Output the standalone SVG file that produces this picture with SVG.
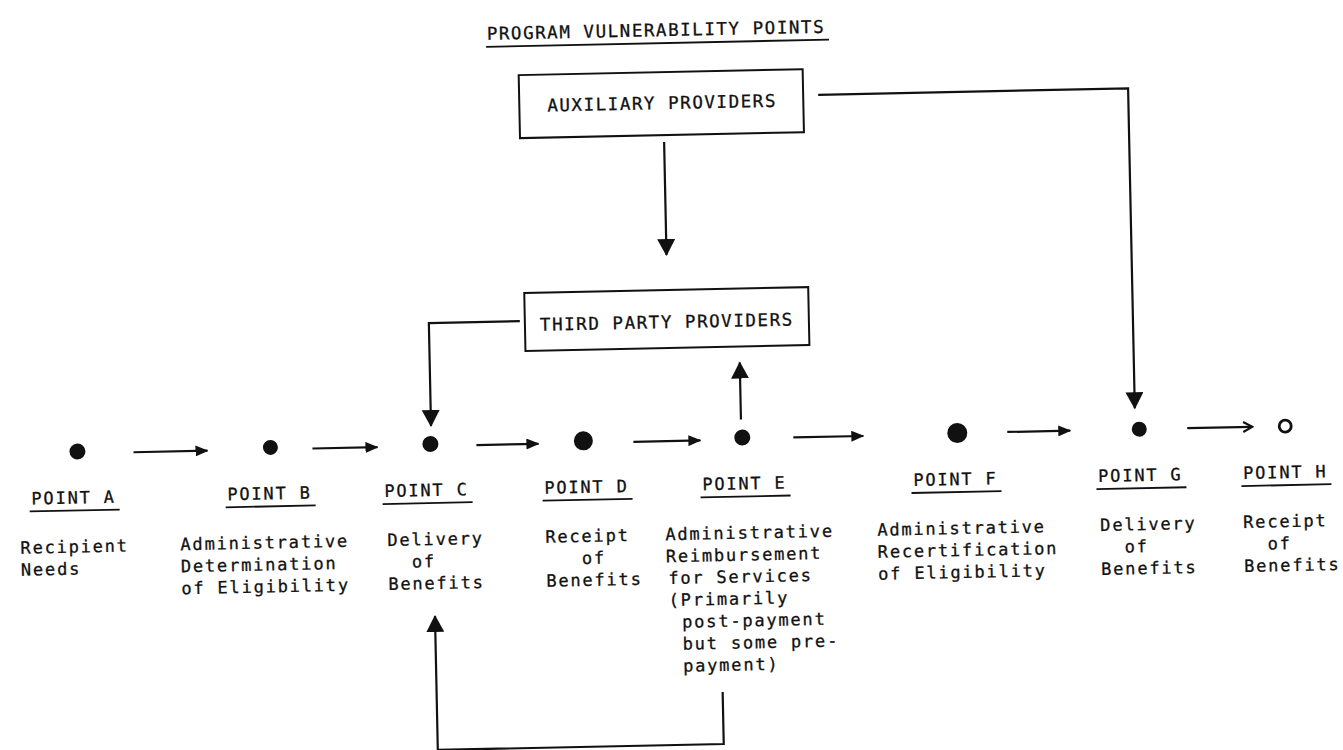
<svg xmlns="http://www.w3.org/2000/svg" width="1343" height="750" viewBox="0 0 1343 750">
<style>
  text { font-family: "DejaVu Sans Mono", "Liberation Mono", monospace; font-size: 17px; letter-spacing: 1.8px; fill: #111; stroke: #111; stroke-width: 0.3px; }
  .big { font-size: 17.5px; letter-spacing: 1.55px; }
  .box { fill: none; stroke: #111; stroke-width: 2; }
  .ul { stroke: #111; stroke-width: 1.8; }
  .conn path { fill: none; stroke: #111; stroke-width: 2.2; }
  .dot { fill: #111; }
</style>
<defs>
  <marker id="ah" markerWidth="13" markerHeight="11" refX="12" refY="5.5" orient="auto" markerUnits="userSpaceOnUse">
    <path d="M0,0 L13,5.5 L0,11 z" fill="#111"/>
  </marker>
  <marker id="big" markerWidth="18" markerHeight="18" refX="16" refY="9" orient="auto" markerUnits="userSpaceOnUse">
    <path d="M0,0 L17,9 L0,18 z" fill="#111"/>
  </marker>
  <marker id="open" markerWidth="12" markerHeight="12" refX="10" refY="6" orient="auto" markerUnits="userSpaceOnUse">
    <path d="M1,1 L10,6 L1,11" fill="none" stroke="#111" stroke-width="2.2"/>
  </marker>
</defs>
<rect width="1343" height="750" fill="#fff"/>
<g transform="rotate(-1.2 671 375)">
  <g id="title">
    <text class="big" x="494" y="36">PROGRAM VULNERABILITY POINTS</text>
    <line class="ul" x1="493" y1="43" x2="836" y2="43"/>
  </g>
  <g id="auxiliary">
    <rect class="box" x="525" y="72" width="284" height="63"/>
    <text class="big" x="553" y="109">AUXILIARY PROVIDERS</text>
  </g>
  <g id="third-party">
    <rect class="box" x="526" y="290" width="284" height="58"/>
    <text class="big" x="541" y="328">THIRD PARTY PROVIDERS</text>
  </g>
  <g id="point-a">
    <circle class="dot" cx="76" cy="439" r="8"/>
    <text x="29" y="491">POINT A</text>
    <line class="ul" x1="27" y1="498" x2="117" y2="498"/>
    <text x="17" y="540">Recipient</text>
    <text x="17" y="562">Needs</text>
  </g>
  <g id="point-b">
    <circle class="dot" cx="269" cy="439" r="7.5"/>
    <text x="225" y="491">POINT B</text>
    <line class="ul" x1="223" y1="498" x2="313" y2="498"/>
    <text x="177" y="540">Administrative</text>
    <text x="177" y="562">Determination</text>
    <text x="177" y="584">of Eligibility</text>
  </g>
  <g id="point-c">
    <circle class="dot" cx="429" cy="439" r="8"/>
    <text x="382" y="491">POINT C</text>
    <line class="ul" x1="380" y1="498" x2="470" y2="498"/>
    <text x="384" y="540">Delivery</text>
    <text x="408" y="562">of</text>
    <text x="384" y="584">Benefits</text>
  </g>
  <g id="point-d">
    <circle class="dot" cx="582" cy="439" r="9.5"/>
    <text x="542" y="491">POINT D</text>
    <line class="ul" x1="540" y1="498" x2="630" y2="498"/>
    <text x="542" y="540">Receipt</text>
    <text x="578" y="562">of</text>
    <text x="542" y="584">Benefits</text>
  </g>
  <g id="point-e">
    <circle class="dot" cx="741" cy="439" r="8"/>
    <text x="700" y="491">POINT E</text>
    <line class="ul" x1="698" y1="498" x2="788" y2="498"/>
    <text x="662" y="540">Administrative</text>
    <text x="662" y="562">Reimbursement</text>
    <text x="664" y="584">for Services</text>
    <text x="664" y="606">(Primarily</text>
    <text x="677" y="628">post-payment</text>
    <text x="677" y="650">but some pre-</text>
    <text x="677" y="672">payment)</text>
  </g>
  <g id="point-f">
    <circle class="dot" cx="956" cy="439" r="10"/>
    <text x="911" y="491">POINT F</text>
    <line class="ul" x1="909" y1="498" x2="999" y2="498"/>
    <text x="874" y="540">Administrative</text>
    <text x="874" y="562">Recertification</text>
    <text x="874" y="584">of Eligibility</text>
  </g>
  <g id="point-g">
    <circle class="dot" cx="1138" cy="439" r="7.5"/>
    <text x="1096" y="491">POINT G</text>
    <line class="ul" x1="1094" y1="498" x2="1184" y2="498"/>
    <text x="1097" y="540">Delivery</text>
    <text x="1121" y="562">of</text>
    <text x="1097" y="584">Benefits</text>
  </g>
  <g id="point-h">
    <circle cx="1284" cy="439" r="6" fill="#fff" stroke="#111" stroke-width="2.8"/>
    <text x="1241" y="491">POINT H</text>
    <line class="ul" x1="1239" y1="498" x2="1329" y2="498"/>
    <text x="1240" y="540">Receipt</text>
    <text x="1264" y="562">of</text>
    <text x="1240" y="584">Benefits</text>
  </g>
  <g id="connectors" class="conn">
    <path d="M669,142 V255" marker-end="url(#big)"/>
    <path d="M824,98 H1134 V418" marker-end="url(#big)"/>
    <path d="M521,318 H430 V421" marker-end="url(#big)"/>
    <path d="M740,421 V364" marker-end="url(#big)"/>
    <path d="M716,693 V745 H430 V611" marker-end="url(#big)"/>
    <path d="M132,441 H206" marker-end="url(#ah)"/>
    <path d="M311,441 H376" marker-end="url(#ah)"/>
    <path d="M475,441 H537" marker-end="url(#ah)"/>
    <path d="M632,441 H699" marker-end="url(#ah)"/>
    <path d="M792,440 H862" marker-end="url(#ah)"/>
    <path d="M1006,439 H1069" marker-end="url(#ah)"/>
    <path d="M1186,439 H1251" marker-end="url(#open)"/>
  </g>
</g>
</svg>
